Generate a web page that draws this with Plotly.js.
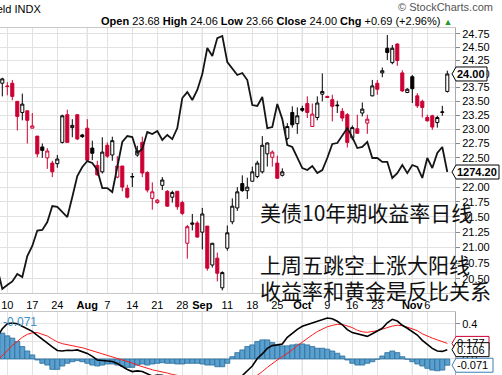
<!DOCTYPE html>
<html><head><meta charset="utf-8">
<script src="https://cdn.plot.ly/plotly-3.0.1.min.js"></script>
<style>html,body{margin:0;padding:0;background:#fff;overflow:hidden}#chart{width:502px;height:375px}</style>
</head><body><div id="chart"></div>
<script>
// trading days (first one only feeds the overlay lines)
const dates = [
 '2017-07-06','2017-07-07','2017-07-10','2017-07-11','2017-07-12','2017-07-13','2017-07-14','2017-07-17','2017-07-18','2017-07-19','2017-07-20','2017-07-21','2017-07-24','2017-07-25','2017-07-26','2017-07-27','2017-07-28','2017-07-31',
 '2017-08-01','2017-08-02','2017-08-03','2017-08-04','2017-08-07','2017-08-08','2017-08-09','2017-08-10','2017-08-11','2017-08-14','2017-08-15','2017-08-16','2017-08-17','2017-08-18','2017-08-21','2017-08-22','2017-08-23','2017-08-24','2017-08-25','2017-08-28','2017-08-29','2017-08-30','2017-08-31',
 '2017-09-01','2017-09-05','2017-09-06','2017-09-07','2017-09-08','2017-09-11','2017-09-12','2017-09-13','2017-09-14','2017-09-15','2017-09-18','2017-09-19','2017-09-20','2017-09-21','2017-09-22','2017-09-25','2017-09-26','2017-09-27','2017-09-28','2017-09-29',
 '2017-10-02','2017-10-03','2017-10-04','2017-10-05','2017-10-06','2017-10-09','2017-10-10','2017-10-11','2017-10-12','2017-10-13','2017-10-16','2017-10-17','2017-10-18','2017-10-19','2017-10-20','2017-10-23','2017-10-24','2017-10-25','2017-10-26','2017-10-27','2017-10-30','2017-10-31',
 '2017-11-01','2017-11-02','2017-11-03','2017-11-06','2017-11-07','2017-11-08','2017-11-09','2017-11-10'];

// $TNX candles (from 2017-07-07)
const openV = [23.83,23.78,23.83,23.50,23.30,23.33,23.02,22.88,22.69,22.50, 22.41,22.40,22.77,23.26,23.03,23.26,22.90,23.02,22.67,22.37, 22.26,22.72,22.55,22.17,22.36,21.98,22.17,22.55,22.77,22.25, 21.81,21.74,22.03,21.93,21.83,21.93,21.74,21.07,21.38,21.40, 21.25,21.35,20.72,20.83,20.36,20.99,21.42,21.65,22.06,21.94, 22.10,22.18,22.26,22.57,22.51,22.41,22.20,22.84,23.30,23.10, 23.37,23.46,23.05,23.21,23.63,23.59,23.53,23.42,23.32,23.26, 22.85,23.01,23.29,23.11,23.60,23.83,24.02,24.48,24.21,24.56, 24.02,23.66,23.95,23.60,23.50,23.21,23.24,23.12,23.30,23.68];
const highV = [23.93,23.85,23.89,23.50,23.64,23.33,23.29,22.88,22.75,22.67, 22.45,22.55,23.26,23.35,23.18,23.26,22.92,23.18,22.80,22.45, 22.86,22.77,22.87,22.53,22.36,22.04,22.24,22.71,22.87,22.27, 22.08,21.80,22.17,21.95,21.94,21.93,21.77,21.37,21.55,21.43, 21.65,21.35,21.07,20.92,20.62,21.36,21.81,22.00,22.20,22.16, 22.35,22.45,22.88,22.77,22.63,22.54,22.32,23.11,23.41,23.39, 23.42,23.59,23.46,23.59,24.01,23.60,23.62,23.51,23.38,23.29, 23.07,23.26,23.48,23.26,23.89,23.89,24.12,24.73,24.54,24.57, 24.07,23.74,23.98,23.65,23.53,23.26,23.26,23.24,23.42,24.06];
const lowV = [23.59,23.61,23.52,22.98,23.16,22.75,23.02,22.51,22.50,22.31, 22.17,22.33,22.75,22.77,22.86,22.81,22.85,22.46,22.46,22.19, 22.23,22.50,22.45,22.15,21.93,21.81,22.00,22.52,22.17,21.91, 21.62,21.72,21.95,21.67,21.74,21.62,21.53,20.82,21.28,21.16, 20.97,20.63,20.68,20.46,20.32,20.95,21.38,21.60,21.92,21.80, 22.09,22.15,22.23,22.35,22.35,22.15,22.18,22.81,23.03,22.92, 23.31,23.20,23.05,23.16,23.50,23.56,23.14,23.29,23.14,22.68, 22.81,22.92,23.23,22.92,23.59,23.62,23.94,24.26,24.18,24.15, 23.67,23.65,23.47,23.38,23.21,23.14,22.99,23.03,23.24,23.66];
const closeV = [23.91,23.77,23.59,23.23,23.45,23.16,23.06,22.57,22.63,22.62, 22.26,22.48,23.24,22.77,23.07,22.83,22.87,22.46,22.58,22.21, 22.60,22.53,22.80,22.36,22.00,21.83,22.18,22.62,22.24,21.95, 21.92,21.78,22.12,21.68,21.91,21.67,21.56,21.34,21.40,21.17, 21.55,20.67,21.07,20.59,20.60,21.24,21.68,21.92,21.94,22.00, 22.26,22.41,22.72,22.76,22.60,22.15,22.26,23.05,23.08,23.24, 23.34,23.30,23.27,23.47,23.68,23.57,23.41,23.43,23.20,22.77, 23.03,22.93,23.36,23.18,23.78,23.72,24.06,24.40,24.48,24.25, 23.69,23.72,23.73,23.42,23.39,23.15,23.04,23.21,23.31,24.00];

// gold overlay (from 2017-07-06)
const gold = [1220.9,
 1209.2,1211.4,1213.4,1217.6,1215.9,1227.5,1233.1,1241.7,1242.0,1246.4,1255.3,1254.8,1252.0,1249.2,1260.3,1272.0,1277.0,
 1280.3,1279.2,1275.3,1265.3,1265.3,1263.1,1277.5,1290.9,1294.2,1293.6,1284.8,1287.0,1296.4,1295.3,1297.0,1292.0,1294.8,1292.5,1298.6,1315.3,1318.6,1314.2,1319.8,
 1328.6,1343.1,1338.6,1348.6,1349.8,1335.3,1332.0,1328.1,1329.2,1325.3,1311.4,1310.9,1315.9,1298.6,1299.2,1312.0,1303.6,1289.2,1288.1,1282.5,
 1276.4,1275.3,1277.5,1273.6,1275.3,1282.0,1289.8,1290.3,1294.2,1298.6,1293.6,1287.5,1288.1,1290.9,1282.0,1282.0,1279.8,1279.8,1270.9,1273.6,1278.1,1273.6,
 1278.1,1277.0,1270.9,1282.0,1276.4,1284.8,1288.1,1274.2];

// MACD(12,26,9) (from 2017-07-06)
const macdLine = [0.25, 0.343,0.40,0.408,0.40,0.371,0.343,0.314,0.269,0.223,0.183, 0.137,0.097,0.091,0.10,0.097,0.103,0.086,0.063,0.029,-0.011, -0.017,-0.019,-0.029,-0.051,-0.086,-0.12,-0.143,-0.135,-0.143,-0.166, -0.194,-0.184,-0.186,-0.209,-0.224,-0.245,-0.257,-0.26,-0.27,-0.28, -0.299,-0.324,-0.337,-0.371,-0.388,-0.359,-0.286,-0.234,-0.189,-0.13, -0.08,0.006,0.057,0.12,0.152,0.16,0.171,0.246,0.291,0.337, 0.371,0.389,0.406,0.429,0.446,0.465,0.457,0.429,0.389,0.334, 0.30,0.286,0.274,0.257,0.286,0.314,0.349,0.411,0.451,0.431, 0.383,0.349,0.314,0.272,0.211,0.16,0.12,0.091,0.086,0.106];
const signalLine = [-0.02, 0.04,0.103,0.154,0.20,0.246,0.28,0.297,0.30,0.28,0.261, 0.226,0.194,0.174,0.16,0.149,0.139,0.128,0.111,0.094,0.077, 0.059,0.046,0.029,0.011,-0.006,-0.026,-0.046,-0.069,-0.089,-0.109, -0.123,-0.135,-0.144,-0.16,-0.175,-0.188,-0.2,-0.211,-0.221,-0.231, -0.242,-0.255,-0.268,-0.283,-0.3,-0.31,-0.312,-0.306,-0.292,-0.27, -0.228,-0.188,-0.143,-0.095,-0.051,-0.011,0.025,0.063,0.105,0.151, 0.194,0.234,0.274,0.311,0.343,0.366,0.382,0.393,0.393,0.377, 0.357,0.326,0.309,0.303,0.309,0.322,0.339,0.36,0.374,0.383, 0.379,0.362,0.343,0.322,0.286,0.257,0.237,0.217,0.20,0.177];
const histBars = [0.27, 0.294,0.263,0.237,0.198,0.141,0.091,0.046,-0.011,-0.049,-0.069, -0.118,-0.118,-0.08,-0.049,-0.031,-0.019,-0.031,-0.049,-0.069,-0.08, -0.069,-0.057,-0.057,-0.069,-0.08,-0.095,-0.095,-0.069,-0.057,-0.069, -0.057,-0.049,-0.042,-0.049,-0.049,-0.057,-0.057,-0.049,-0.049,-0.049, -0.057,-0.069,-0.069,-0.088,-0.088,-0.049,0.026,0.072,0.103,0.141, 0.16,0.198,0.217,0.217,0.186,0.16,0.149,0.149,0.16,0.168, 0.171,0.16,0.141,0.122,0.122,0.111,0.091,0.065,0.034,-0.011, -0.049,-0.069,-0.069,-0.049,-0.031,-0.003,0.034,0.072,0.091,0.072, 0.026,-0.003,-0.031,-0.057,-0.08,-0.106,-0.126,-0.134,-0.126,-0.071];

const tickDates = ['2017-07-10','2017-07-17','2017-07-24','2017-08-01','2017-08-07','2017-08-14','2017-08-21','2017-08-28','2017-09-01','2017-09-11','2017-09-18','2017-09-25','2017-10-02','2017-10-09','2017-10-16','2017-10-23','2017-11-01','2017-11-06'];
const tickLabels = ['10','17','24','Aug','7','14','21','28','Sep','11','18','25','Oct','9','16','23','Nov','6'];
const monthStarts = ['2017-08-01','2017-09-01','2017-10-02','2017-11-01'];
const priceTicks = [20.5,20.75,21,21.25,21.5,21.75,22,22.25,22.5,22.75,23,23.25,23.5,23.75,24,24.25,24.5,24.75];
const macdTicks = [-0.2,0,0.2,0.4];
const titleLeft = '$TNX 10-Year US Treasury Yield INDX';
const notes = ['美债10年期收益率日线','上周五跳空上涨大阳线','收益率和黄金是反比关系'];

const RED = '#cc0033';
const candleDates = dates.slice(1);
// colour by close vs previous close (StockCharts style)
const up = {x:[],o:[],h:[],l:[],c:[]}, dn = {x:[],o:[],h:[],l:[],c:[]};
for (let i = 0; i < closeV.length; i++) {
  const g = (i === 0 || closeV[i] >= closeV[i-1]) ? up : dn;
  g.x.push(candleDates[i]); g.o.push(openV[i]); g.h.push(highV[i]); g.l.push(lowV[i]); g.c.push(closeV[i]);
}
function candle(g, col) {
  return {type:'candlestick', x:g.x, open:g.o, high:g.h, low:g.l, close:g.c, xaxis:'x', yaxis:'y',
    line:{width:1}, whiskerwidth:0,
    increasing:{line:{color:col, width:1}, fillcolor:'#ffffff'},
    decreasing:{line:{color:col, width:1}, fillcolor:col}, hoverinfo:'skip'};
}
const data = [
  candle(up, '#000000'),
  candle(dn, RED),
  {type:'scatter', mode:'lines', x:dates, y:gold, xaxis:'x', yaxis:'y3', line:{color:'#151515', width:1.8}, hoverinfo:'skip'},
  {type:'bar', x:dates, y:histBars, xaxis:'x2', yaxis:'y2', marker:{color:'#5a9fcd', line:{color:'#2a6d9c', width:0.8}}, hoverinfo:'skip'},
  {type:'scatter', mode:'lines', x:dates, y:signalLine, xaxis:'x2', yaxis:'y2', line:{color:'#ff1a1a', width:1}, hoverinfo:'skip'},
  {type:'scatter', mode:'lines', x:dates, y:macdLine, xaxis:'x2', yaxis:'y2', line:{color:'#000000', width:1.6}, hoverinfo:'skip'}
];

const FONT = '"Liberation Sans", Arial, sans-serif';
const GRID = '#e2e2e2';
const mainDom = [0.2363, 1], macdDom = [0, 0.1816];
const n = closeV.length;
const lastC = closeV[n-1], prevC = closeV[n-2];
const chg = lastC - prevC;

const shapes = [];
monthStarts.forEach(d => {
  shapes.push({type:'line', xref:'x', yref:'y domain', x0:d, x1:d, y0:0, y1:1, line:{color:'#b8b8b8', width:1}, layer:'below'});
  shapes.push({type:'line', xref:'x2', yref:'y2 domain', x0:d, x1:d, y0:0, y1:1, line:{color:'#b8b8b8', width:1}, layer:'below'});
});
function tag(yref, yv, w, col) {
  shapes.push({type:'path', xref:'paper', xsizemode:'pixel', xanchor:1, yref:yref, ysizemode:'pixel', yanchor:yv,
    path:`M -3 0 L 1 -7 L ${w} -7 L ${w} 7 L 1 7 Z`, fillcolor:'#ffffff', line:{color:col, width:1}, layer:'above'});
}
tag('y', lastC, 32, '#000');
tag('y3', gold[gold.length-1], 44, '#000');
tag('y2', signalLine[signalLine.length-1], 34, RED);
tag('y2', macdLine[macdLine.length-1], 34, '#000');
tag('y2', histBars[histBars.length-1], 38, '#3a7fb5');

const ann = [
  {xref:'paper', yref:'paper', x:43/455, y:1, xanchor:'right', yanchor:'middle', yshift:19, showarrow:false, text:titleLeft, font:{family:FONT, size:11, color:'#000'}},
  {xref:'paper', yref:'paper', x:1, y:1, xanchor:'right', yanchor:'middle', xshift:-1, yshift:7, showarrow:false,
   text:`<b>Open</b> ${openV[n-1].toFixed(2)} <b>High</b> ${highV[n-1].toFixed(2)} <b>Low</b> ${lowV[n-1].toFixed(2)} <b>Close</b> ${lastC.toFixed(2)} <b>Chg</b> +${chg.toFixed(2)} (+${(chg/prevC*100).toFixed(2)}%) <span style="color:#1e9a2e;font-size:9px">▲</span>`,
   font:{family:FONT, size:11, color:'#000'}},
  {xref:'paper', yref:'paper', x:1, y:1, xanchor:'right', yanchor:'middle', xshift:40, yshift:21, showarrow:false, text:'© StockCharts.com', font:{family:FONT, size:11, color:'#555'}},
  {xref:'paper', yref:'paper', x:0, y:macdDom[1], xanchor:'left', yanchor:'top', xshift:1, yshift:-1, showarrow:false, text:histBars[histBars.length-1].toFixed(3), font:{family:FONT, size:12, color:'#3a8fc7'}},
  {xref:'paper', yref:'y', x:1, y:Math.log10(lastC), xanchor:'left', yanchor:'middle', xshift:1, showarrow:false, borderpad:0, text:'<b>'+lastC.toFixed(2)+'</b>', font:{family:FONT, size:11, color:'#000'}},
  {xref:'paper', yref:'y3', x:1, y:gold[gold.length-1], xanchor:'left', yanchor:'middle', xshift:1, showarrow:false, borderpad:0, text:'<b>'+gold[gold.length-1].toFixed(2)+'</b>', font:{family:FONT, size:11, color:'#000'}},
  {xref:'paper', yref:'y2', x:1, y:signalLine[signalLine.length-1], xanchor:'left', yanchor:'middle', xshift:1, showarrow:false, borderpad:0, text:signalLine[signalLine.length-1].toFixed(3), font:{family:FONT, size:11, color:'#000'}},
  {xref:'paper', yref:'y2', x:1, y:macdLine[macdLine.length-1], xanchor:'left', yanchor:'middle', xshift:1, showarrow:false, borderpad:0, text:macdLine[macdLine.length-1].toFixed(3), font:{family:FONT, size:11, color:'#000'}},
  {xref:'paper', yref:'y2', x:1, y:histBars[histBars.length-1], xanchor:'left', yanchor:'middle', xshift:1, showarrow:false, borderpad:0, text:histBars[histBars.length-1].toFixed(3), font:{family:FONT, size:11, color:'#000'}}
];
const noteY = [0.4697, 0.3199, 0.2450];
notes.forEach((t, i) => ann.push({xref:'paper', yref:'paper', x:258/455, y:noteY[i], xanchor:'left', yanchor:'middle', showarrow:false, text:t,
  font:{family:'"Noto Sans CJK SC", sans-serif', size:21, color:'#111'}}));

const tickText = tickLabels.map(t => /[A-Za-z]/.test(t) ? '<b>'+t+'</b>' : t);
const layout = {
  width:502, height:375, margin:{l:0, r:47, t:28, b:0, pad:0},
  paper_bgcolor:'#fff', plot_bgcolor:'#fff', showlegend:false,
  font:{family:FONT, size:11, color:'#000'},
  boxgap:0.12, bargap:0,
  xaxis:{type:'category', categoryorder:'array', categoryarray:dates, range:[0.54, 91.54], domain:[0,1], anchor:'y',
    tickmode:'array', tickvals:tickDates, ticktext:tickText, ticks:'', tickangle:0, ticklabelstandoff:2,
    showgrid:true, gridcolor:GRID, gridwidth:1, showline:true, linecolor:'#c8c8c8', mirror:true, zeroline:false,
    rangeslider:{visible:false}, fixedrange:true, tickfont:{family:FONT, size:11, color:'#000'}},
  yaxis:{domain:mainDom, anchor:'x', type:'log', side:'right', range:[Math.log10(20.279), Math.log10(24.864)],
    tickmode:'array', tickvals:priceTicks, ticktext:priceTicks.map(v => v.toFixed(2)),
    ticks:'outside', ticklen:4, tickcolor:'#8a8a8a', showgrid:true, gridcolor:GRID, showline:true, linecolor:'#a8a8a8',
    zeroline:false, fixedrange:true, tickfont:{family:FONT, size:11, color:'#000'}},
  yaxis3:{overlaying:'y', anchor:'x', side:'right', range:[1207.0, 1354.2], visible:false, fixedrange:true},
  xaxis2:{type:'category', categoryorder:'array', categoryarray:dates, matches:'x', anchor:'y2', side:'top',
    tickmode:'array', tickvals:tickDates, showticklabels:false, ticks:'',
    showgrid:true, gridcolor:GRID, showline:true, linecolor:'#c8c8c8', zeroline:false, fixedrange:true},
  yaxis2:{domain:macdDom, anchor:'x2', side:'right', range:[-0.182, 0.534],
    tickmode:'array', tickvals:macdTicks, ticktext:macdTicks.map(v => v.toFixed(1)),
    ticks:'outside', ticklen:4, tickcolor:'#8a8a8a', showgrid:true, gridcolor:GRID, showline:true, linecolor:'#a8a8a8',
    zeroline:false, fixedrange:true, tickfont:{family:FONT, size:11, color:'#000'}},
  shapes:shapes, annotations:ann
};
Plotly.newPlot('chart', data, layout, {staticPlot:true, displayModeBar:false});
</script></body></html>
